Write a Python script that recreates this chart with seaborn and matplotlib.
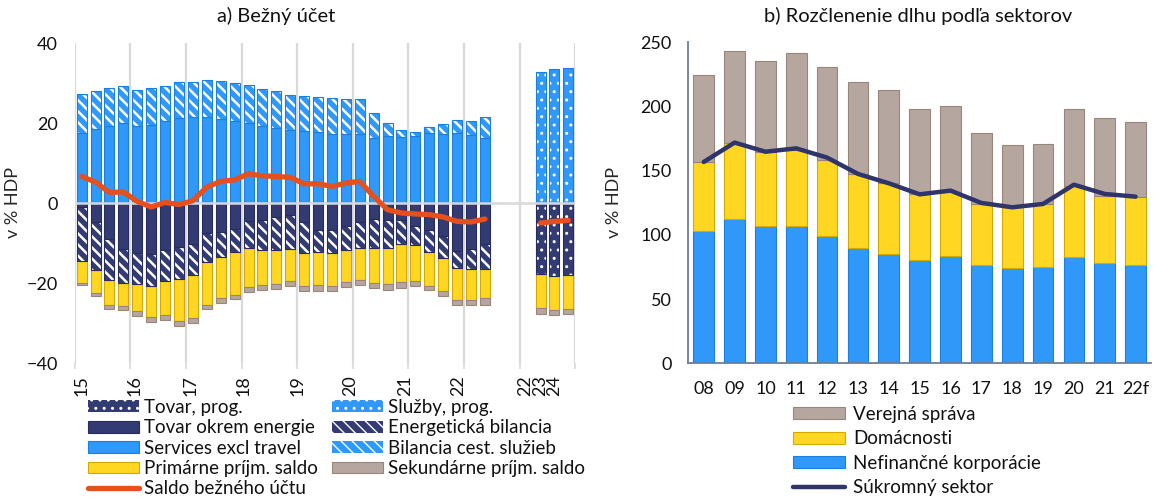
import numpy as np
import matplotlib
matplotlib.use("Agg")
import matplotlib.pyplot as plt
import seaborn as sns
from matplotlib.patches import Patch
from matplotlib.lines import Line2D

# ---------------------------------------------------------------
# a) Current account, % of GDP, quarterly 2015Q1 - 2022Q2
# ---------------------------------------------------------------
services_excl_travel = [17.5, 18.6, 19.25, 20.0, 19.2, 19.6, 20.5, 21.2, 21.4, 21.5,
                        21.0, 20.5, 20.0, 19.25, 18.8, 18.3, 18.1, 17.8, 17.3, 17.15,
                        17.2, 16.25, 16.65, 16.5, 16.65, 17.6, 17.25, 17.6, 17.0, 16.25]
travel_balance = [9.75, 9.5, 9.5, 9.3, 9.0, 9.1, 8.8, 9.05, 8.9, 9.15,
                  9.5, 9.6, 9.5, 9.25, 9.3, 8.8, 8.55, 8.7, 8.85, 8.75,
                  8.8, 6.25, 3.25, 1.8, 1.1, 1.3, 2.5, 3.15, 3.5, 5.15]
goods_excl_energy = [-1.0, -4.67, -9.0, -11.5, -12.5, -12.7, -11.7, -11.0, -10.2, -7.5,
                     -7.2, -6.5, -4.6, -4.2, -3.5, -2.9, -4.7, -6.7, -6.8, -5.8,
                     -4.8, -4.0, -4.3, -4.3, -5.7, -6.8, -8.3, -12.1, -11.5, -10.2]
energy_balance = [-13.4, -12.0, -10.2, -8.5, -7.75, -8.1, -7.7, -8.0, -7.9, -7.3,
                  -6.3, -5.8, -6.65, -7.5, -8.2, -8.6, -7.7, -5.5, -5.6, -6.0,
                  -6.45, -7.25, -6.9, -5.95, -4.8, -5.4, -5.45, -4.2, -4.9, -6.3]
primary_income = [-5.6, -5.83, -6.4, -5.75, -6.85, -7.8, -8.7, -10.4, -10.6, -10.7,
                  -10.3, -10.7, -9.75, -8.8, -8.5, -8.0, -8.4, -8.4, -8.4, -7.95,
                  -7.95, -8.75, -9.1, -9.5, -9.0, -8.5, -8.25, -8.0, -7.85, -7.25]
secondary_income = [-0.5, -0.8, -0.8, -0.95, -1.1, -1.15, -1.2, -1.35, -1.2, -1.1,
                    -1.1, -1.1, -1.2, -1.25, -1.3, -1.25, -1.3, -1.3, -1.3, -1.25,
                    -1.2, -1.25, -1.4, -1.45, -1.3, -1.1, -1.3, -1.1, -1.15, -1.75]
current_account = [6.65, 5.2, 2.65, 2.75, 0.4, -1.0, 0.15, -0.4, 0.6, 4.0,
                   5.4, 5.8, 7.3, 6.8, 6.65, 6.4, 4.8, 4.8, 4.15, 5.0,
                   5.4, 1.65, -1.7, -2.5, -2.75, -2.9, -3.5, -4.6, -4.75, -4.0]

# Forecast, annual 2022 - 2024
services_fc = [32.75, 33.5, 33.75]
goods_fc = [-17.8, -18.2, -17.9]
primary_fc = [-8.5, -8.5, -8.5]
secondary_fc = [-1.4, -1.4, -1.35]
current_account_fc = [-5.0, -4.6, -4.35]

year_labels = ["15", "16", "17", "18", "19", "20", "21", "22"]
fc_labels = ["22", "23", "24"]

# ---------------------------------------------------------------
# b) Debt by sector, % of GDP
# ---------------------------------------------------------------
debt_years = ["08", "09", "10", "11", "12", "13", "14", "15", "16", "17", "18", "19", "20", "21", "22f"]
nonfin_corp = [103.1, 112.1, 107.2, 107.2, 98.9, 89.8, 85.2, 80.2, 83.6, 76.8, 74.2, 75.3, 83.1, 78.1, 76.3]
households = [53.7, 59.2, 57.6, 58.9, 59.5, 57.4, 55.0, 51.4, 50.1, 47.3, 47.6, 48.5, 55.3, 52.5, 53.5]
government = [67.8, 71.7, 70.4, 75.3, 72.1, 72.2, 72.4, 66.2, 66.5, 55.0, 48.5, 47.3, 59.4, 60.2, 57.9]
private_sector = [156.8, 171.9, 164.8, 167.4, 160.2, 147.5, 140.2, 131.6, 134.5, 124.9, 121.5, 124.1, 139.1, 131.9, 129.8]

# ---------------------------------------------------------------
# Style
# ---------------------------------------------------------------
NAVY, NAVY_EDGE = "#333B73", "#262C5C"
BLUE, BLUE_EDGE = "#3098F8", "#1A7FDD"
YELLOW, YELLOW_EDGE = "#FFD622", "#D4AA00"
TAUPE, TAUPE_EDGE = "#B5A7A0", "#9A857B"
ORANGE = "#E5501C"
LINE_NAVY = "#2F346B"
GRID = "#D9D9D9"
SPINE = "#6E7B99"
TEXT = "#111111"

sns.set_theme(style="white")
plt.rcParams["font.family"] = ["Lato", "DejaVu Sans"]
plt.rcParams["font.size"] = 13
plt.rcParams["text.color"] = TEXT
plt.rcParams["xtick.color"] = TEXT
plt.rcParams["ytick.color"] = TEXT

TICK_FS = 13
LEG_FS = 13.5
TITLE_FS = 14.5

STRIPES = "\\\\\\"
DOTS = ".."


def stacked(ax, x, height, bottom, face, edge, width, hatch=None, hatch_lw=1.8):
    """Draw one stacked layer with seaborn; hatched layers get white hatching and an outline."""
    common = dict(x=x, y=height, bottom=bottom, ax=ax, native_scale=True, width=width,
                  saturation=1, errorbar=None, legend=False)
    if hatch is None:
        sns.barplot(**common, color=face, edgecolor=edge, linewidth=0.8, zorder=2)
    else:
        with plt.rc_context({"hatch.linewidth": hatch_lw}):
            sns.barplot(**common, color=face, edgecolor="white", linewidth=0,
                        hatch=hatch, zorder=2)
        sns.barplot(**common, color=edge, facecolor="none", edgecolor=edge,
                    linewidth=0.8, zorder=2.1)


fig = plt.figure(figsize=(11.53, 5.0), dpi=100)
W, H = 1153.0, 500.0

# ---------------------------------------------------------------
# Panel a
# ---------------------------------------------------------------
ax1 = fig.add_axes([74.7 / W, 137 / H, (575.3 - 74.7) / W, 320 / H])
q_pos = np.arange(len(current_account))
fc_pos = np.arange(len(current_account_fc)) + len(current_account) + 3
bw = 0.72

svc = np.array(services_excl_travel)
stacked(ax1, q_pos, svc, np.zeros_like(svc), BLUE, BLUE_EDGE, bw)
stacked(ax1, q_pos, np.array(travel_balance), svc, BLUE, BLUE_EDGE, bw, hatch=STRIPES)

g = np.array(goods_excl_energy)
e = np.array(energy_balance)
p = np.array(primary_income)
s = np.array(secondary_income)
stacked(ax1, q_pos, g, np.zeros_like(g), NAVY, NAVY_EDGE, bw)
stacked(ax1, q_pos, e, g, NAVY, NAVY_EDGE, bw, hatch=STRIPES)
stacked(ax1, q_pos, p, g + e, YELLOW, YELLOW_EDGE, bw)
stacked(ax1, q_pos, s, g + e + p, TAUPE, TAUPE_EDGE, bw)

sf = np.array(services_fc)
gf = np.array(goods_fc)
pf = np.array(primary_fc)
stf = np.array(secondary_fc)
stacked(ax1, fc_pos, sf, np.zeros_like(sf), BLUE, BLUE_EDGE, bw, hatch=DOTS, hatch_lw=1.0)
stacked(ax1, fc_pos, gf, np.zeros_like(gf), NAVY, NAVY_EDGE, bw, hatch=DOTS, hatch_lw=1.0)
stacked(ax1, fc_pos, pf, gf, YELLOW, YELLOW_EDGE, bw)
stacked(ax1, fc_pos, stf, gf + pf, TAUPE, TAUPE_EDGE, bw)

line_kw = dict(color=ORANGE, linewidth=3.8, zorder=5, legend=False,
               solid_capstyle="round", solid_joinstyle="round")
sns.lineplot(x=q_pos, y=current_account, ax=ax1, **line_kw)
sns.lineplot(x=fc_pos, y=current_account_fc, ax=ax1, **line_kw)

grid_pos = np.arange(-0.5, fc_pos[-1] + 1, 4)
for gx in grid_pos:
    ax1.axvline(gx, color=GRID, linewidth=1.6, zorder=0)
ax1.axhline(0, color=GRID, linewidth=1.8, zorder=4)

ax1.set_xlim(-0.5, fc_pos[-1] + 0.5)
ax1.set_ylim(-40, 40)
ax1.set_yticks([-40, -20, 0, 20, 40])
ax1.tick_params(axis="y", length=0, pad=12, labelsize=TICK_FS)
for sp in ax1.spines.values():
    sp.set_visible(False)

ax1.xaxis.remove_overlapping_locs = False
ax1.set_xticks(grid_pos)
ax1.set_xticklabels([])
ax1.tick_params(axis="x", which="major", length=4, width=1.2, color=GRID, bottom=True)
label_pos = [0, 3.83, 7.8, 11.64, 15.5, 19.3, 23.3, 27.1, 31.9, 33.0, 34.0]
ax1.set_xticks(label_pos, minor=True)
ax1.set_xticklabels(year_labels + fc_labels, minor=True, rotation=90, fontsize=TICK_FS)
ax1.tick_params(axis="x", which="minor", length=0, pad=9)
ax1.set_xlabel("")
ax1.set_ylabel("v % HDP", fontsize=TICK_FS)
ax1.yaxis.set_label_coords(-0.107, 0.5)

fig.text(276 / W, 1 - 16 / H, "a) Bežný účet", ha="center", va="center", fontsize=TITLE_FS)

# Legend of panel a, two columns
with plt.rc_context({"hatch.linewidth": 1.8}):
    h_energy = Patch(facecolor=NAVY, edgecolor="white", linewidth=0, hatch=STRIPES)
    h_travel = Patch(facecolor=BLUE, edgecolor="white", linewidth=0, hatch=STRIPES)
with plt.rc_context({"hatch.linewidth": 1.0}):
    h_goods_fc = Patch(facecolor=NAVY, edgecolor="white", linewidth=0, hatch=DOTS)
    h_serv_fc = Patch(facecolor=BLUE, edgecolor="white", linewidth=0, hatch=DOTS)
h_goods = Patch(facecolor=NAVY, edgecolor=NAVY_EDGE, linewidth=0.8)
h_serv = Patch(facecolor=BLUE, edgecolor=BLUE_EDGE, linewidth=0.8)
h_prim = Patch(facecolor=YELLOW, edgecolor=YELLOW_EDGE, linewidth=0.8)
h_sec = Patch(facecolor=TAUPE, edgecolor=TAUPE_EDGE, linewidth=0.8)
h_ca = Line2D([], [], color=ORANGE, linewidth=3.8, solid_capstyle="round")

leg_kw = dict(loc="upper left", frameon=False, borderpad=0, borderaxespad=0,
              handlelength=2.7, handleheight=0.6, handletextpad=0.3,
              labelspacing=0.18, fontsize=LEG_FS)
fig.legend([h_goods_fc, h_goods, h_serv, h_prim, h_ca],
           ["Tovar, prog.", "Tovar okrem energie", "Services excl travel",
            "Primárne príjm. saldo", "Saldo bežného účtu"],
           bbox_to_anchor=(88 / W, 1 - 399 / H), **leg_kw)
fig.legend([h_serv_fc, h_energy, h_travel, h_sec],
           ["Služby, prog.", "Energetická bilancia", "Bilancia cest. služieb",
            "Sekundárne príjm. saldo"],
           bbox_to_anchor=(332 / W, 1 - 399 / H), **leg_kw)

# ---------------------------------------------------------------
# Panel b
# ---------------------------------------------------------------
ax2 = fig.add_axes([688.3 / W, 136.7 / H, (1151 - 688.3) / W, 321 / H])
corp = np.array(nonfin_corp)
hh = np.array(households)
gov = np.array(government)
bw2 = 0.67
sns.barplot(x=debt_years, y=corp, ax=ax2, color=BLUE, edgecolor=BLUE_EDGE, linewidth=0.8,
            saturation=1, errorbar=None, width=bw2, zorder=2)
sns.barplot(x=debt_years, y=hh, bottom=corp, ax=ax2, color=YELLOW, edgecolor=YELLOW_EDGE,
            linewidth=0.8, saturation=1, errorbar=None, width=bw2, zorder=2)
sns.barplot(x=debt_years, y=gov, bottom=corp + hh, ax=ax2, color=TAUPE, edgecolor=TAUPE_EDGE,
            linewidth=0.8, saturation=1, errorbar=None, width=bw2, zorder=2)
sns.lineplot(x=np.arange(len(debt_years)), y=private_sector, ax=ax2, color=LINE_NAVY,
             linewidth=3.2, zorder=5, legend=False, solid_capstyle="round",
             solid_joinstyle="round")

ax2.set_xlim(-0.5, len(debt_years) - 0.5)
ax2.set_ylim(0, 250)
ax2.set_yticks([0, 50, 100, 150, 200, 250])
ax2.set_xticks(np.arange(len(debt_years)))
ax2.set_xticklabels(debt_years, fontsize=TICK_FS)
ax2.tick_params(axis="both", length=0, labelsize=TICK_FS)
ax2.tick_params(axis="y", pad=12)
ax2.tick_params(axis="x", pad=13)
for side in ("top", "right"):
    ax2.spines[side].set_visible(False)
for side in ("left", "bottom"):
    ax2.spines[side].set_color(SPINE)
    ax2.spines[side].set_linewidth(1.3)
ax2.set_xlabel("")
ax2.set_ylabel("v % HDP", fontsize=TICK_FS)
ax2.yaxis.set_label_coords(-0.143, 0.5)

fig.text(918 / W, 1 - 16 / H, "b) Rozčlenenie dlhu podľa sektorov", ha="center",
         va="center", fontsize=TITLE_FS)

fig.legend([Patch(facecolor=TAUPE, edgecolor=TAUPE_EDGE, linewidth=0.8),
            Patch(facecolor=YELLOW, edgecolor=YELLOW_EDGE, linewidth=0.8),
            Patch(facecolor=BLUE, edgecolor=BLUE_EDGE, linewidth=0.8),
            Line2D([], [], color=LINE_NAVY, linewidth=3.2, solid_capstyle="round")],
           ["Verejná správa", "Domácnosti", "Nefinančné korporácie", "Súkromný sektor"],
           loc="upper left", frameon=False, borderpad=0, borderaxespad=0,
           handlelength=2.75, handleheight=0.6, handletextpad=0.45, labelspacing=0.4,
           fontsize=LEG_FS, bbox_to_anchor=(793 / W, 1 - 406 / H))

fig.savefig("out.png", dpi=100)
